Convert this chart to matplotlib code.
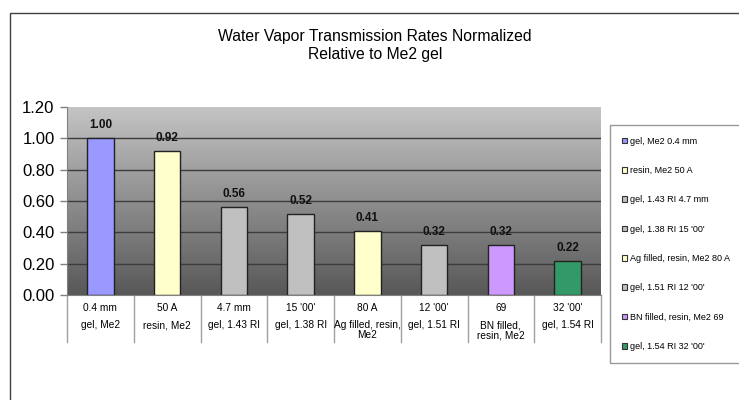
import numpy as np
import matplotlib
matplotlib.use("Agg")
import matplotlib.pyplot as plt
from matplotlib.patches import Patch, Rectangle
import matplotlib.transforms as mtransforms

plt.rcParams['font.family'] = ['Liberation Sans', 'DejaVu Sans']

# data
sizes = ["0.4 mm", "50 A", "4.7 mm", "15 '00'", "80 A", "12 '00'", "69", "32 '00'"]
materials = ["gel, Me2", "resin, Me2", "gel, 1.43 RI", "gel, 1.38 RI",
             "Ag filled, resin,\nMe2", "gel, 1.51 RI", "BN filled,\nresin, Me2", "gel, 1.54 RI"]
rates = [1.00, 0.92, 0.56, 0.52, 0.41, 0.32, 0.32, 0.22]
colors = ["#9999FF", "#FFFFCC", "#C0C0C0", "#C0C0C0", "#FFFFCC", "#C0C0C0", "#CC99FF", "#339966"]

W, H = 739, 400
fig = plt.figure(figsize=(W / 100, H / 100), dpi=100)

# outer chart frame (runs off the right/bottom edge)
fig.patches.append(Rectangle((10 / W, -0.1), 1.2, (H - 13) / H + 0.1, transform=fig.transFigure,
                             fill=False, edgecolor="#404040", linewidth=1.0))

# plot area in pixels
x0, x1, ytop, ybot = 67, 601, 107, 295
ax = fig.add_axes([x0 / W, (H - ybot) / H, (x1 - x0) / W, (ybot - ytop) / H])

n = len(rates)
x = np.arange(n)
ax.set_xlim(-0.5, n - 0.5)
ax.set_ylim(0, 1.2)

# gradient background
grad = np.linspace(0, 1, 256).reshape(-1, 1)
cmap = matplotlib.colors.LinearSegmentedColormap.from_list("bg", ["#585858", "#c4c4c4"])
ax.imshow(grad, aspect="auto", cmap=cmap, origin="lower",
          extent=(-0.5, n - 0.5, 0, 1.2), zorder=0)

for yv in [0.2, 0.4, 0.6, 0.8, 1.0]:
    ax.axhline(yv, color="#3c3c3c", linewidth=1.0, zorder=1)

bars = ax.bar(x, rates, width=0.4, color=colors, edgecolor="#222222", linewidth=1.0, zorder=2)
for xi, v in zip(x, rates):
    ax.annotate(f"{v:.2f}", (xi, v), xytext=(0, 5), textcoords="offset points",
                ha="center", va="bottom", fontsize=8.5, fontweight="bold", color="#111111")

ax.set_yticks([0, 0.2, 0.4, 0.6, 0.8, 1.0, 1.2])
ax.set_yticklabels([f"{t:.2f}" for t in ax.get_yticks()], fontsize=12)
ax.tick_params(axis="y", length=5, width=1, color="#808080", pad=4)
ax.set_xticks([])
for s in ["top", "right"]:
    ax.spines[s].set_visible(False)
ax.spines["left"].set_color("#808080")
ax.spines["bottom"].set_color("#808080")

# category table under the axis
trans = mtransforms.blended_transform_factory(ax.transData, ax.transAxes)
ph = ybot - ytop
sep_bottom = -(342 - ybot) / ph
for b in np.arange(-0.5, n, 1.0):
    ax.plot([b, b], [0, sep_bottom], transform=trans, color="#a0a0a0",
            linewidth=1.0, clip_on=False)
for xi, s, m in zip(x, sizes, materials):
    ax.text(xi, -(308 - ybot) / ph, s, transform=trans, ha="center", va="center", fontsize=7.3)
    ax.text(xi, -(320 - ybot) / ph, m, transform=trans, ha="center", va="top",
            fontsize=7.3, linespacing=1.05)

fig.text(375 / W, 1 - 37 / H, "Water Vapor Transmission Rates Normalized", ha="center",
         va="center", fontsize=11.3)
fig.text(375 / W, 1 - 54 / H, "Relative to Me2 gel", ha="center", va="center", fontsize=11.3)

handles = [Patch(facecolor=c, edgecolor="#333333", linewidth=0.8) for c in colors]
labels = [f"{m.replace(chr(10), ' ')} {s}" for m, s in zip(materials, sizes)]
leg = fig.legend(handles, labels, loc="upper left",
                 bbox_to_anchor=(610 / W, 1 - 365 / H, 0.3, 240 / H), mode="expand",
                 fontsize=6.5, handlelength=0.6, handleheight=0.6, handletextpad=0.3,
                 labelspacing=2.25, borderpad=1.3, borderaxespad=0, frameon=True, fancybox=False)
leg.get_frame().set_edgecolor("#808080")
leg.get_frame().set_linewidth(1.0)

fig.savefig("out.png", dpi=100)
